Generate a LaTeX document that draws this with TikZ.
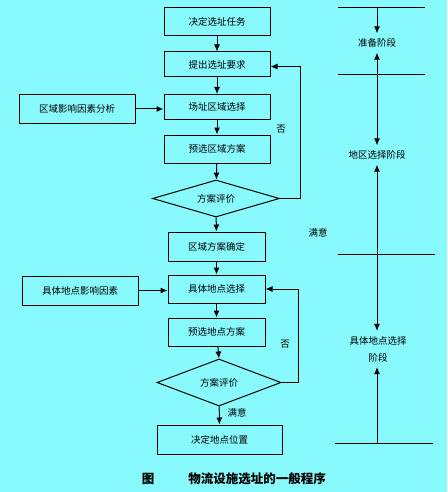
\documentclass[tikz,border=0pt]{standalone}
\usepackage{fontspec}
\setmainfont{Noto Sans CJK SC}
\usetikzlibrary{arrows.meta,shapes.geometric}
\definecolor{bgc}{RGB}{136,250,253}
\begin{document}
\begin{tikzpicture}[x=1pt,y=-1pt,
  every node/.style={font=\fontsize{9.5}{12}\selectfont, inner sep=0pt},
  box/.style={draw, line width=1pt, minimum height=#1},
  box/.default=28pt,
  dia/.style={draw, line width=1pt, diamond, minimum width=#1},
  conn/.style={line width=1pt, -{Latex[length=7pt,width=6pt]}},
  dconn/.style={line width=1pt, {Latex[length=7pt,width=6pt]}-{Latex[length=7pt,width=6pt]}},
  rule/.style={line width=1pt},
  stage/.style={align=center, inner sep=5pt}
]
\useasboundingbox[fill=bgc] (0,0) rectangle (447,492);
% main column
\node[box=28pt, minimum width=106pt] (n1) at (217,22) {决定选址任务};
\node[box=25pt, minimum width=106pt] (n2) at (217,64.5) {提出选址要求};
\node[box=25pt, minimum width=106pt] (n3) at (217,107) {场址区域选择};
\node[box=28pt, minimum width=116pt] (l1) at (77,109) {区域影响因素分析};
\node[box=28pt, minimum width=106pt] (n4) at (217,149) {预选区域方案};
\node[dia=127pt, minimum height=37pt, shape aspect=3.4] (d1) at (216,198.5) {方案评价};
\node[box=29pt, minimum width=97pt] (n5) at (216.5,246.5) {区域方案确定};
\node[box=28pt, minimum width=97pt] (n6) at (216.5,289) {具体地点选择};
\node[box=29pt, minimum width=116pt] (l2) at (80,290.5) {具体地点影响因素};
\node[box=28pt, minimum width=97pt] (n7) at (216.5,332) {预选地点方案};
\node[dia=124pt, minimum height=47pt, shape aspect=2.64] (d2) at (219,382.5) {方案评价};
\node[box=29pt, minimum width=125pt] (n8) at (219.5,439.5) {决定地点位置};

\draw[conn] (n1) -- (n2);
\draw[conn] (n2) -- (n3);
\draw[conn] (l1.east) -- (n3.west |- l1.east);
\draw[conn] (n3) -- (n4);
\draw[conn] (n4) -- (d1);
\draw[conn] (d1.east) -- ++(20,0) |- ([yshift=-2pt]n2.east);
\draw[conn] (d1) -- (n5);
\draw[conn] (n5) -- (n6);
\draw[conn] (l2.east) -- (n6.west |- l2.east);
\draw[conn] (n6) -- (n7);
\draw[conn] (n7) -- (d2.north);
\draw[conn] (d2.east) -- ++(17,0) |- (n6.east);
\draw[conn] (d2) -- (n8);

\node (no1) at (281,129) {否};
\node (ok1) at (318,233) {满意};
\node (no2) at (285,344) {否};
\node (ok2) at (237,413) {满意};

% right column
\coordinate (r0) at (377,8);
\coordinate (r3) at (377,443);
\draw[rule] (338,8) -- (425,8);
\draw[rule] (338,75) -- (425,75);
\draw[rule] (338,254) -- (435,254);
\draw[rule] (335,443) -- (433,443);
\node[stage] (s1) at (377,43) {准备阶段};
\node[stage] (s2) at (377,155) {地区选择阶段};
\node[stage, font=\fontsize{9.5}{17}\selectfont] (s3) at (378,349) {具体地点选择\\阶段};
\draw[conn] (r0) -- (s1);
\draw[dconn] (s1) -- (s2);
\draw[dconn] (s2) -- (s2 |- s3.north);
\draw[conn] (r3) -- (r3 |- s3.south);

% caption
\node[font=\fontsize{12.5}{14}\selectfont\bfseries] (c1) at (148,479) {图};
\node[font=\fontsize{12.5}{14}\selectfont\bfseries] (c2) at (257,479) {物流设施选址的一般程序};
\end{tikzpicture}
\end{document}
